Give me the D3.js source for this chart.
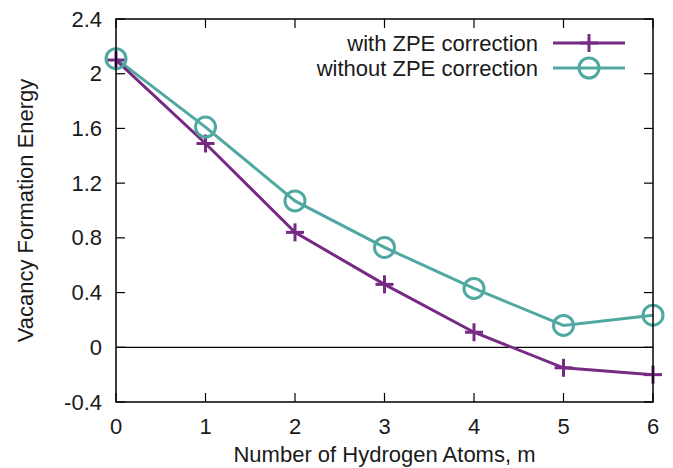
<!DOCTYPE html>
<html>
<head>
<meta charset="utf-8">
<script src="https://cdn.jsdelivr.net/npm/d3@7"></script>
<style>
  html, body { margin: 0; padding: 0; background: #fff; }
  svg { display: block; }
  text { font-family: "Liberation Sans", Arial, Helvetica, sans-serif; fill: #1a1a1a; }
</style>
</head>
<body>
<svg id="chart" width="673" height="468"></svg>
<script>
// Hydrogen atom counts and vacancy formation energies
const hydrogenCounts = [0, 1, 2, 3, 4, 5, 6];
const withZPE    = [2.10, 1.49, 0.84, 0.46, 0.11, -0.15, -0.20];
const withoutZPE = [2.11, 1.61, 1.07, 0.73, 0.43, 0.16, 0.235];
const yTicks = [-0.4, 0, 0.4, 0.8, 1.2, 1.6, 2, 2.4];
const xTicks = [0, 1, 2, 3, 4, 5, 6];
const seriesNames = ["with ZPE correction", "without ZPE correction"];

const purple = "#762a83";
const teal = "#4fa9a1";

const svg = d3.select("#chart");
const plotLeft = 116, plotRight = 653, plotTop = 19, plotBottom = 402;

const x = d3.scaleLinear().domain([0, 6]).range([plotLeft, plotRight]);
const y = d3.scaleLinear().domain([-0.4, 2.4]).range([plotBottom, plotTop]);

const tickLen = 9;
const fontSize = 22;

// zero line
svg.append("line")
  .attr("x1", plotLeft).attr("x2", plotRight)
  .attr("y1", y(0)).attr("y2", y(0))
  .attr("stroke", "#000").attr("stroke-width", 1.2);

// inward ticks on all four sides
const tickG = svg.append("g").attr("stroke", "#000").attr("stroke-width", 1.2);
yTicks.forEach(v => {
  tickG.append("line").attr("x1", plotLeft).attr("x2", plotLeft + tickLen).attr("y1", y(v)).attr("y2", y(v));
  tickG.append("line").attr("x1", plotRight).attr("x2", plotRight - tickLen).attr("y1", y(v)).attr("y2", y(v));
});
xTicks.forEach(v => {
  tickG.append("line").attr("x1", x(v)).attr("x2", x(v)).attr("y1", plotBottom).attr("y2", plotBottom - tickLen);
  tickG.append("line").attr("x1", x(v)).attr("x2", x(v)).attr("y1", plotTop).attr("y2", plotTop + tickLen);
});

// tick labels
svg.append("g").selectAll("text").data(yTicks).join("text")
  .attr("x", plotLeft - 14).attr("y", d => y(d))
  .attr("text-anchor", "end").attr("dominant-baseline", "central")
  .attr("font-size", fontSize)
  .text(d => String(d));

svg.append("g").selectAll("text").data(xTicks).join("text")
  .attr("x", d => x(d)).attr("y", plotBottom + 24)
  .attr("text-anchor", "middle").attr("dominant-baseline", "central")
  .attr("font-size", fontSize)
  .text(d => d);

// axis titles
svg.append("text")
  .attr("x", (plotLeft + plotRight) / 2).attr("y", 462)
  .attr("text-anchor", "middle").attr("font-size", fontSize)
  .text("Number of Hydrogen Atoms, m");

svg.append("text")
  .attr("transform", `translate(${25},${(plotTop + plotBottom) / 2}) rotate(-90)`)
  .attr("text-anchor", "middle").attr("dominant-baseline", "central")
  .attr("font-size", fontSize)
  .text("Vacancy Formation Energy");

// series lines
const line = d3.line().x((d, i) => x(hydrogenCounts[i])).y(d => y(d));

svg.append("path").datum(withoutZPE)
  .attr("d", line).attr("fill", "none")
  .attr("stroke", teal).attr("stroke-width", 3);

svg.append("path").datum(withZPE)
  .attr("d", line).attr("fill", "none")
  .attr("stroke", purple).attr("stroke-width", 3);

// markers
const crossSize = 9, circleR = 10;
function drawCross(g, cx, cy) {
  g.append("line").attr("x1", cx - crossSize).attr("x2", cx + crossSize).attr("y1", cy).attr("y2", cy);
  g.append("line").attr("x1", cx).attr("x2", cx).attr("y1", cy - crossSize).attr("y2", cy + crossSize);
}
const crossG = svg.append("g").attr("stroke", purple).attr("stroke-width", 3);
withZPE.forEach((v, i) => drawCross(crossG, x(hydrogenCounts[i]), y(v)));

svg.append("g").selectAll("circle").data(withoutZPE).join("circle")
  .attr("cx", (d, i) => x(hydrogenCounts[i])).attr("cy", d => y(d))
  .attr("r", circleR).attr("fill", "none")
  .attr("stroke", teal).attr("stroke-width", 3);

// frame
svg.append("rect")
  .attr("x", plotLeft).attr("y", plotTop).attr("width", plotRight - plotLeft).attr("height", plotBottom - plotTop)
  .attr("fill", "none").attr("stroke", "#000").attr("stroke-width", 1.5);

// legend
const legendRows = [
  { name: seriesNames[0], color: purple, marker: "cross", yPos: 43 },
  { name: seriesNames[1], color: teal, marker: "circle", yPos: 68 }
];
const legX1 = 553, legX2 = 625, legTextX = 538;
legendRows.forEach(r => {
  svg.append("text").attr("x", legTextX).attr("y", r.yPos)
    .attr("text-anchor", "end").attr("dominant-baseline", "central")
    .attr("font-size", fontSize).text(r.name);
  svg.append("line").attr("x1", legX1).attr("x2", legX2).attr("y1", r.yPos).attr("y2", r.yPos)
    .attr("stroke", r.color).attr("stroke-width", 3);
  const mx = (legX1 + legX2) / 2;
  if (r.marker === "cross") {
    const g = svg.append("g").attr("stroke", r.color).attr("stroke-width", 3);
    drawCross(g, mx, r.yPos);
  } else {
    svg.append("circle").attr("cx", mx).attr("cy", r.yPos).attr("r", circleR)
      .attr("fill", "none").attr("stroke", r.color).attr("stroke-width", 3);
  }
});
</script>
</body>
</html>
